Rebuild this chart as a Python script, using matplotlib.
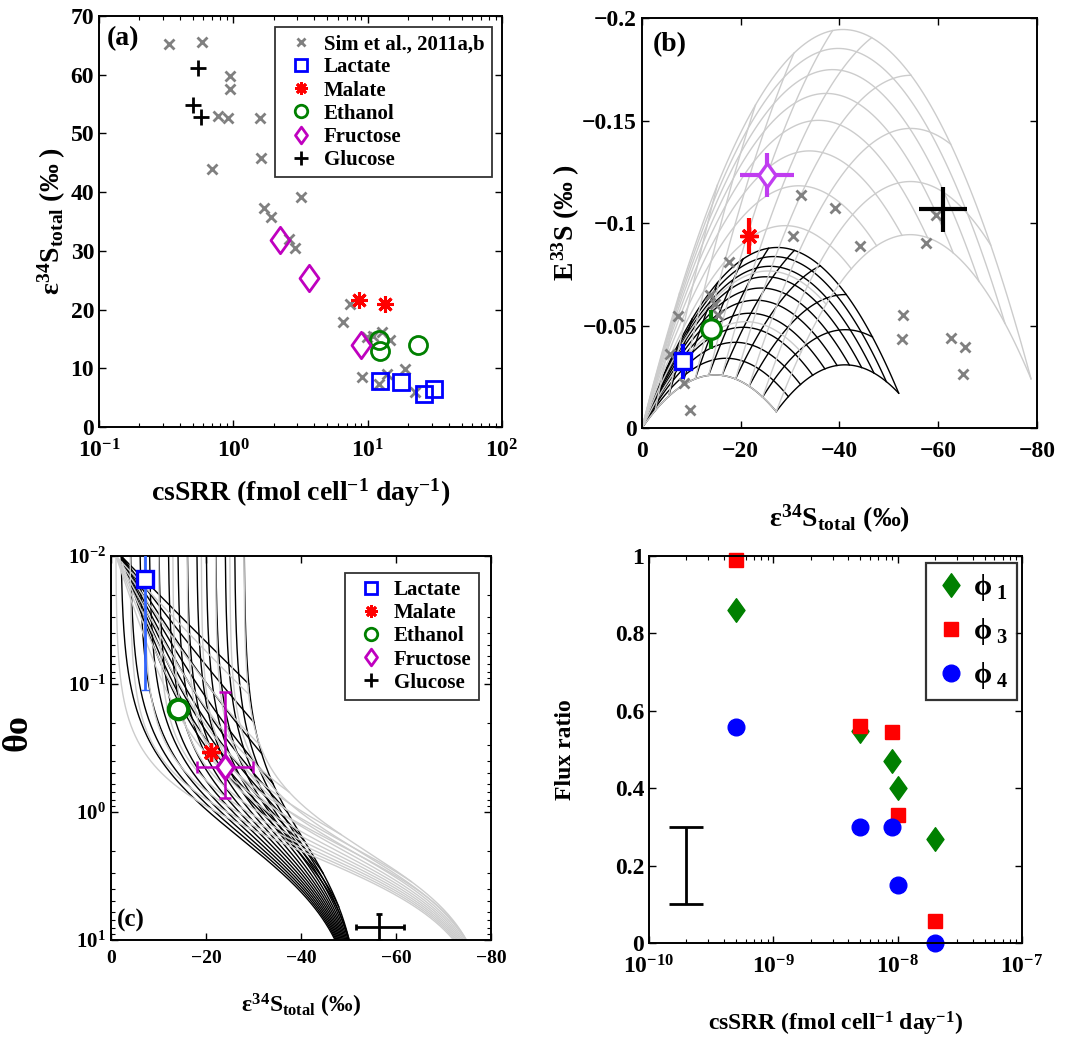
import numpy as np
import matplotlib
matplotlib.use('Agg')
import matplotlib.pyplot as plt
from matplotlib.ticker import FuncFormatter
from matplotlib.lines import Line2D
from matplotlib.path import Path

plt.rcParams['font.family'] = ['Liberation Serif', 'DejaVu Serif']
plt.rcParams['font.weight'] = 'bold'
plt.rcParams['axes.labelweight'] = 'bold'
plt.rcParams['mathtext.fontset'] = 'custom'
plt.rcParams['mathtext.rm'] = 'Liberation Serif:bold'
plt.rcParams['mathtext.it'] = 'Liberation Serif:bold'
plt.rcParams['mathtext.bf'] = 'Liberation Serif:bold'
plt.rcParams['axes.linewidth'] = 1.4

# ---------------- (a) epsilon vs csSRR ----------------
sim_rate = [0.33, 0.585, 0.946, 0.946, 0.774, 0.91, 0.69, 1.58, 1.6, 1.68, 1.9, 3.2,
            2.62, 2.87, 7.33, 6.6, 9.05, 9.87, 12.8, 14.7, 12.05, 13.9, 19.0, 22.6, 11.0]
sim_eps = [65.2, 65.5, 59.7, 57.5, 53.0, 52.6, 44.0, 52.6, 45.8, 37.3, 35.8, 39.2,
           32.1, 30.4, 21.0, 17.9, 8.5, 15.3, 16.2, 14.8, 7.4, 9.1, 9.9, 6.0, 15.5]
lac_rate = [12.4, 17.8, 26.4, 31.0]
lac_eps = [7.8, 7.6, 5.7, 6.5]
mal_rate = [8.65, 13.4]
mal_eps = [21.6, 20.9]
eth_rate = [12.2, 12.4, 23.9]
eth_eps = [14.8, 13.0, 14.0]
fru_rate = [2.23, 3.69, 8.96]
fru_eps = [31.8, 25.3, 13.9]
glu_rate = [0.543, 0.499, 0.576]
glu_eps = [61.1, 54.8, 52.8]

# ---------------- (b) E33S vs epsilon ----------------
simb_e34 = [-7.3, -8.6, -9.8, -5.7, -17.7, -13.8, -14.8, -15.5, -32.3, -39.2, -30.5,
            -44.1, -57.6, -59.6, -52.9, -52.6, -62.5, -65.5, -65.0]
simb_E33 = [-0.0546, -0.022, -0.0086, -0.036, -0.081, -0.0648, -0.0607, -0.055, -0.1137,
            -0.1075, -0.0937, -0.0888, -0.0904, -0.1039, -0.055, -0.0433, -0.044,
            -0.0393, -0.0265]
b_e34 = [-8.3, -13.9, -21.6, -25.3, -61.0]          # lactate, ethanol, malate, fructose, glucose
b_E33 = [-0.0326, -0.0482, -0.0937, -0.1235, -0.1067]
b_xerr = [0, 0, 0, 5.5, 4.8]
b_yerr = [0.0085, 0.0094, 0.009, 0.0106, 0.011]

# model mesh corners (eps34, E33S) and flux-ratio levels
cusp = (-27.2, -0.008)
far_grey = (-78.8, -0.024)
far_black = (-52.0, -0.017)
f_levels = [0.0, 0.1, 0.2, 0.3, 0.4, 0.5, 0.6, 0.7, 0.8, 0.9, 1.0]
lam = 0.515
e33_scale = 0.94

# ---------------- (c) theta vs epsilon ----------------
c_lac = (-7.2, 0.015, 0.112)
c_eth = (-14.1, 0.157)
c_mal = (-21.0, 0.34)
c_fru = (-24.1, 0.446, 0.116, 0.78, -18.2, -30.0)
c_glu = (-56.5, 7.96, 6.3, 10.0, -51.5, -61.7)
blk_e0 = [-2, -4, -6, -8, -10, -12, -14, -16, -18, -20, -22, -24, -26, -28]
blk_thend = [0.1, 0.2, 0.35, 0.6, 1.0, 1.7, 3.0, 5.5, 10.0]
gry_e0 = [-1, -4, -7, -10, -13, -16, -19, -22, -25, -28]
gry_thend = [0.12, 0.3, 0.7, 1.5, 3.5, 10.0]
blk_par = (-53.0, 1.63, 1.13)
gry_par = (-80.0, 2.05, 1.39)

# ---------------- (d) flux ratios ----------------
d_rate = [5e-10, 5e-9, 9e-9, 1.0e-8, 2.0e-8]
phi1 = [0.86, 0.548, 0.47, 0.40, 0.27]
phi3 = [0.99, 0.561, 0.546, 0.33, 0.056]
phi4 = [0.559, 0.30, 0.30, 0.151, 0.0]

GREY = '#808080'
MESH = '#cccccc'
GREEN = '#008000'
MAG = '#bf00bf'
AST = (8, 2, 0)   # asterisk marker
DIA = Path([(0, 1), (0.72, 0), (0, -1), (-0.72, 0), (0, 1)],
           [Path.MOVETO, Path.LINETO, Path.LINETO, Path.LINETO, Path.CLOSEPOLY])

fig = plt.figure(figsize=(10.71, 10.44), dpi=100)
axa = fig.add_axes([0.0924, 0.591, 0.3763, 0.3937])
axb = fig.add_axes([0.5994, 0.590, 0.3688, 0.3927])
axc = fig.add_axes([0.1036, 0.0996, 0.3548, 0.3678])
axd = fig.add_axes([0.606, 0.0967, 0.3483, 0.3707])

for ax in (axa, axb, axc, axd):
    ax.tick_params(direction='in', which='both', top=True, right=True)
    ax.tick_params(which='major', length=5, width=1.0)
    ax.tick_params(which='minor', length=3, width=0.8)


def legend_box(ax, handles, labels, anchor, fs):
    lg = ax.legend(handles, labels, loc='upper right', bbox_to_anchor=anchor,
                   borderaxespad=0, fontsize=fs, frameon=True, fancybox=False,
                   edgecolor='black', handletextpad=0.2, borderpad=0.35,
                   labelspacing=0.15, handlelength=1.8)
    lg.get_frame().set_linewidth(1.3)
    return lg


# ---- panel a
axa.plot(sim_rate, sim_eps, 'x', color=GREY, ms=7, mew=2)
axa.plot(lac_rate, lac_eps, 's', color='#0000ff', mfc='none', ms=11, mew=2)
axa.plot(mal_rate, mal_eps, marker=AST, ls='', color='#ff0000', ms=12, mew=2.2)
axa.plot(eth_rate, eth_eps, 'o', color=GREEN, mfc='none', ms=13, mew=2)
axa.plot(fru_rate, fru_eps, marker=DIA, ls='', color=MAG, mfc='none', ms=19, mew=2)
axa.plot(glu_rate, glu_eps, '+', color='black', ms=12, mew=2)
axa.set_xscale('log')
axa.set_xlim(0.1, 100)
axa.set_ylim(0, 70)
axa.set_yticks(range(0, 71, 10))
axa.tick_params(labelsize=17)
axa.tick_params(axis='x', pad=9)
axa.set_xlabel('csSRR (fmol cell$^{-1}$ day$^{-1}$)', fontsize=20, labelpad=10)
axa.set_ylabel('$ε^{34}S_{total}$ (‰ )', fontsize=20, labelpad=2)
axa.text(0.02, 0.975, '(a)', transform=axa.transAxes, fontsize=20, va='top', ha='left')
h_a = [Line2D([], [], marker='x', color=GREY, ms=6, mew=2, ls=''),
       Line2D([], [], marker='s', color='#0000ff', mfc='none', ms=8, mew=2, ls=''),
       Line2D([], [], marker=AST, color='#ff0000', ms=9, mew=2, ls=''),
       Line2D([], [], marker='o', color=GREEN, mfc='none', ms=9, mew=2, ls=''),
       Line2D([], [], marker=DIA, color=MAG, mfc='none', ms=12, mew=2, ls=''),
       Line2D([], [], marker='+', color='black', ms=10, mew=2, ls='')]
legend_box(axa, h_a, ['Sim et al., 2011a,b', 'Lactate', 'Malate', 'Ethanol', 'Fructose',
                      'Glucose'], (0.975, 0.973), 15)

# ---- panel b mesh
def to_alpha(pt):
    l34 = pt[0] / 1000.0
    l33 = lam * l34 + pt[1] / e33_scale / 1000.0
    return np.exp(l34), np.exp(l33)


def mesh_xy(c, f, F1, F2):
    c34, c33 = to_alpha(c)
    f34, f33 = to_alpha(f)
    F1 = np.asarray(F1, float)
    F2 = np.asarray(F2, float)
    a34 = 1 + F1 * (c34 + F2 * (f34 - c34) - 1)
    a33 = 1 + F1 * (c33 + F2 * (f33 - c33) - 1)
    x = 1000 * np.log(a34)
    y = 1000 * e33_scale * (np.log(a33) - lam * np.log(a34))
    return x, y


s = np.linspace(0, 1, 120)
for corner, col, z in ((far_black, 'black', 1), (far_grey, MESH, 2)):
    for lev in f_levels:
        x1, y1 = mesh_xy(cusp, corner, s, np.full_like(s, lev))
        axb.plot(x1, y1, color=col, lw=1.0, zorder=z)
        x2, y2 = mesh_xy(cusp, corner, np.full_like(s, lev), s)
        axb.plot(x2, y2, color=col, lw=1.0, zorder=z)

axb.plot(simb_e34, simb_E33, 'x', color=GREY, ms=7, mew=2, zorder=3)
b_style = [('s', '#0000ff', 12), ('o', GREEN, 14), (AST, '#ff0000', 13),
           (DIA, '#c03cf0', 17), ('+', 'black', 1)]
for k in range(len(b_e34)):
    m, col, ms = b_style[k]
    axb.errorbar(b_e34[k], b_E33[k], xerr=b_xerr[k] or None, yerr=b_yerr[k],
                 fmt='none', ecolor=col, elinewidth=3, capsize=0, zorder=4)
    axb.plot(b_e34[k], b_E33[k], marker=m, ls='', color=col, mfc='white', ms=ms,
             mew=2.4, zorder=5)
axb.set_xlim(0, -80)
axb.set_ylim(0, -0.2)
axb.set_xticks([0, -20, -40, -60, -80])
axb.set_yticks([0, -0.05, -0.1, -0.15, -0.2])
axb.yaxis.set_major_formatter(FuncFormatter(lambda v, p: ('%g' % v).replace('-', '\u2212')))
axb.tick_params(labelsize=17)
axb.tick_params(axis='x', pad=9)
axb.set_xlabel('$ε^{34}S_{total}$ (‰)', fontsize=20, labelpad=30)
axb.set_ylabel('$E^{33}S$ (‰ )', fontsize=20, labelpad=0)
axb.text(0.028, 0.965, '(b)', transform=axb.transAxes, fontsize=20, va='top', ha='left')

# ---- panel c mesh
def eps_theta(e0, par, th):
    einf, K, n = par
    g = th ** n / (th ** n + K ** n)
    return e0 + (einf - e0) * g


th = np.logspace(-2, 1, 300)
p = np.linspace(0, 1, 200)
for e0s, thend, par, col, z in ((blk_e0, blk_thend, blk_par, 'black', 1),
                                (gry_e0, gry_thend, gry_par, MESH, 2)):
    for e0 in e0s:
        axc.plot(eps_theta(e0, par, th), th, color=col, lw=1.0, zorder=z)
    for q in thend:
        e0p = e0s[0] + p * (e0s[-1] - e0s[0])
        thp = 0.01 * (q / 0.01) ** p
        axc.plot(eps_theta(e0p, par, thp), thp, color=col, lw=1.0, zorder=z)

axc.errorbar(c_lac[0], c_lac[1], yerr=[[c_lac[1] - 0.005], [c_lac[2] - c_lac[1]]],
             fmt='none', ecolor='#3366ff', elinewidth=2, capsize=3, zorder=4)
axc.plot(c_lac[0], c_lac[1], 's', color='#0000ff', mfc='white', ms=12, mew=2.4, zorder=5)
axc.plot(c_mal[0], c_mal[1], marker=AST, ls='', color='#ff0000', ms=13, mew=2.4, zorder=5)
axc.plot(c_eth[0], c_eth[1], 'o', color=GREEN, mfc='white', ms=14, mew=3, zorder=5)
axc.errorbar(c_fru[0], c_fru[1],
             yerr=[[c_fru[1] - c_fru[2]], [c_fru[3] - c_fru[1]]],
             xerr=[[c_fru[0] - c_fru[5]], [c_fru[4] - c_fru[0]]],
             fmt='none', ecolor=MAG, elinewidth=1.8, capsize=4, capthick=1.8, zorder=4)
axc.plot(c_fru[0], c_fru[1], marker=DIA, ls='', color=MAG, mfc='white', ms=17, mew=2.5,
         zorder=5)
axc.errorbar(c_glu[0], c_glu[1],
             yerr=[[c_glu[1] - c_glu[2]], [c_glu[3] - c_glu[1]]],
             xerr=[[c_glu[0] - c_glu[5]], [c_glu[4] - c_glu[0]]],
             fmt='none', ecolor='black', elinewidth=2, capsize=2, capthick=2, zorder=4)
axc.set_yscale('log')
axc.set_ylim(10, 0.01)
axc.set_xlim(0, -80)
axc.set_xticks([0, -20, -40, -60, -80])
axc.tick_params(axis='x', labelsize=14, pad=7)
axc.tick_params(axis='y', labelsize=15)
axc.set_xlabel('$ε^{34}S_{total}$ (‰)', fontsize=17, labelpad=18)
axc.set_ylabel('θo', fontsize=26)
axc.yaxis.set_label_coords(-0.2, 0.54)
axc.text(0.016, 0.02, '(c)', transform=axc.transAxes, fontsize=18, va='bottom', ha='left')
h_c = h_a[1:]
legend_box(axc, h_c, ['Lactate', 'Malate', 'Ethanol', 'Fructose', 'Glucose'],
           (0.968, 0.956), 15)

# ---- panel d
axd.plot(d_rate, phi1, marker=DIA, ls='', color=GREEN, ms=17, clip_on=False)
axd.plot(d_rate, phi3, 's', color='#ff0000', ms=10.5, clip_on=False)
axd.plot(d_rate, phi4, 'o', color='#0000ff', ms=12, clip_on=False)
axd.errorbar([2e-10], [0.2], yerr=[0.1], fmt='none', ecolor='black', elinewidth=2,
             capsize=12, capthick=2)
axd.set_xscale('log')
axd.set_xlim(1e-10, 1e-7)
axd.set_ylim(0, 1)
axd.set_yticks([0, 0.2, 0.4, 0.6, 0.8, 1])
axd.yaxis.set_major_formatter(FuncFormatter(lambda v, p: '%g' % v))
axd.tick_params(labelsize=17)
axd.tick_params(axis='x', pad=9)
axd.set_xlabel('csSRR (fmol cell$^{-1}$ day$^{-1}$)', fontsize=17, labelpad=22)
axd.set_ylabel('Flux ratio', fontsize=17, labelpad=28)
h_d = [Line2D([], [], marker=DIA, color=GREEN, ms=17, ls=''),
       Line2D([], [], marker='s', color='#ff0000', ms=10.5, ls=''),
       Line2D([], [], marker='o', color='#0000ff', ms=12, ls='')]
lg = axd.legend(h_d, [r'$\phi_{\ 1}$', r'$\phi_{\ 3}$', r'$\phi_{\ 4}$'], loc='upper right',
                bbox_to_anchor=(0.987, 0.982), borderaxespad=0, fontsize=21,
                frameon=True, fancybox=False, edgecolor='black', handletextpad=0.2,
                borderpad=0.3, labelspacing=0.45, handlelength=1.1)
lg.get_frame().set_linewidth(1.6)

fig.savefig('out.png', dpi=100)
